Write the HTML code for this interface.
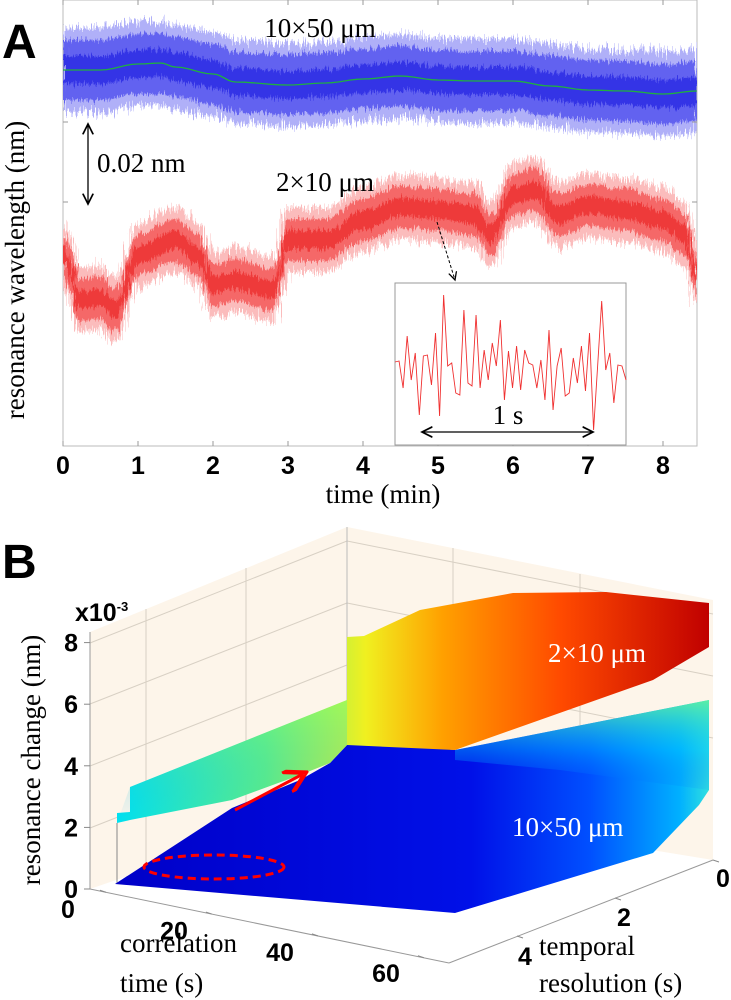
<!DOCTYPE html>
<html><head><meta charset="utf-8"><style>
body{margin:0;background:#fff;width:731px;height:1000px;overflow:hidden}
svg{display:block}
.tk{font-family:"Liberation Sans Narrow","Liberation Sans",sans-serif;font-weight:bold;font-size:25px;fill:#000}
.sf{font-family:"Liberation Serif",serif;font-size:27px;fill:#000}
</style></head><body>
<svg id="fig" width="731" height="1000" viewBox="0 0 731 1000">
<defs>
<filter id="jag" x="-5%" y="-30%" width="110%" height="160%">
<feTurbulence type="fractalNoise" baseFrequency="0.9 0.03" numOctaves="2" seed="3" result="n"/>
<feDisplacementMap in="SourceGraphic" in2="n" scale="24" xChannelSelector="R" yChannelSelector="G"/>
</filter>
<filter id="jag2" x="-5%" y="-30%" width="110%" height="160%">
<feTurbulence type="fractalNoise" baseFrequency="0.7 0.05" numOctaves="2" seed="7" result="n"/>
<feDisplacementMap in="SourceGraphic" in2="n" scale="14" xChannelSelector="R" yChannelSelector="G"/>
</filter>
<linearGradient id="gUp" x1="117" y1="0" x2="709" y2="0" gradientUnits="userSpaceOnUse">
<stop offset="0" stop-color="#00e0f0"/><stop offset="0.25" stop-color="#60f080"/><stop offset="0.42" stop-color="#f0f020"/><stop offset="0.55" stop-color="#ffa000"/><stop offset="0.75" stop-color="#ff4a00"/><stop offset="1" stop-color="#c00000"/></linearGradient>
<linearGradient id="gUpL" x1="0" y1="700" x2="0" y2="823" gradientUnits="userSpaceOnUse">
<stop offset="0" stop-color="#80ff70" stop-opacity="0.6"/><stop offset="1" stop-color="#00b0ff" stop-opacity="0"/></linearGradient>
<linearGradient id="gLow" x1="115" y1="0" x2="709" y2="0" gradientUnits="userSpaceOnUse">
<stop offset="0" stop-color="#0000c8"/><stop offset="0.6" stop-color="#0010e8"/><stop offset="0.8" stop-color="#0050ff"/><stop offset="0.95" stop-color="#00b0ff"/><stop offset="1" stop-color="#30e0e0"/></linearGradient>
<linearGradient id="gLowT" x1="0" y1="700" x2="0" y2="800" gradientUnits="userSpaceOnUse">
<stop offset="0" stop-color="#60f0a0" stop-opacity="0.9"/><stop offset="0.5" stop-color="#00c0ff" stop-opacity="0.4"/><stop offset="1" stop-color="#0040ff" stop-opacity="0"/></linearGradient>
<marker id="ah" markerWidth="10" markerHeight="10" refX="8" refY="5" orient="auto-start-reverse"><path d="M0,1 L8,5 L0,9" fill="none" stroke="#000" stroke-width="1.3"/></marker>
<marker id="ahr" markerWidth="8" markerHeight="8" refX="6" refY="4" orient="auto"><path d="M0,0 L7,4 L0,8" fill="none" stroke="#f00" stroke-width="1.5"/></marker>
</defs>

<g id="panelA">
<text x="2" y="58" font-family="Liberation Sans" font-weight="bold" font-size="48">A</text>
<rect x="63" y="0" width="634" height="446" fill="none" stroke="#bbb" stroke-width="1"/>
<g id="traces"></g>
<g id="xticks"></g>
<text class="sf" x="383" y="503" text-anchor="middle">time (min)</text>
<text class="sf" transform="translate(24,270) rotate(-90)" text-anchor="middle">resonance wavelength (nm)</text>
<text class="sf" x="320" y="37" text-anchor="middle">10×50 μm</text>
<text class="sf" x="325" y="191" text-anchor="middle">2×10 μm</text>
<line x1="88" y1="124" x2="88" y2="204" stroke="#000" stroke-width="1.3" marker-start="url(#ah)" marker-end="url(#ah)"/>
<text class="sf" x="97" y="172">0.02 nm</text>
<line x1="437" y1="222" x2="455" y2="280" stroke="#000" stroke-width="1" stroke-dasharray="3,2" marker-end="url(#ah)"/>
<rect x="395" y="283" width="231" height="162" fill="#fff" stroke="#999"/>
<g id="inset"></g>
<line x1="422" y1="432" x2="593" y2="432" stroke="#000" stroke-width="1.3" marker-start="url(#ah)" marker-end="url(#ah)"/>
<text class="sf" x="508" y="424" text-anchor="middle">1 s</text>
</g>

<g id="panelB">
<text x="2" y="578" font-family="Liberation Sans" font-weight="bold" font-size="48">B</text>
<polygon points="90,632 347,527 347,800 90,889" fill="#fdf5ea"/>
<polygon points="347,527 713,600 713,860 347,800" fill="#fdf5ea"/>
<g stroke="#d8d0c4" stroke-width="1" fill="none">
<line x1="90" y1="643" x2="347" y2="541"/><line x1="90" y1="704" x2="347" y2="603"/><line x1="90" y1="766" x2="347" y2="665"/><line x1="90" y1="828" x2="347" y2="727"/>
<line x1="146" y1="609" x2="146" y2="866"/><line x1="246" y1="568" x2="246" y2="832"/>
<line x1="347" y1="541" x2="713" y2="614"/><line x1="347" y1="603" x2="713" y2="676"/><line x1="347" y1="665" x2="713" y2="738"/>
<line x1="453" y1="548" x2="453" y2="820"/><line x1="580" y1="574" x2="580" y2="840"/>
</g>
<line x1="347" y1="527" x2="347" y2="800" stroke="#bbb"/>
<line x1="90" y1="632" x2="90" y2="889" stroke="#999"/>
<line x1="90" y1="889" x2="449" y2="963" stroke="#999"/>
<line x1="449" y1="963" x2="713" y2="860" stroke="#999"/>
<line x1="117" y1="823" x2="117" y2="884" stroke="#888"/>
<polygon points="115,884 232,808 300,780 330,763 347,745 400,745 455,750 709,700 709,790 699,805 653,853 455,913 115,884" fill="url(#gLow)"/>
<polygon points="455,750 709,700 709,790 560,770 455,760" fill="url(#gLowT)"/>
<polygon points="117,823 117,813 130,812 130,787 347,700 347,637 364,636 420,610 513,593 606,592 709,603 709,647 653,680 455,750 347,745 330,763 300,775 232,800 130,820" fill="url(#gUp)"/>
<polygon points="117,823 130,787 347,700 347,745 330,763 300,775 232,800 130,820" fill="url(#gUpL)"/>
<text x="548" y="662" font-family="Liberation Serif" font-size="27" fill="#fff">2×10 μm</text>
<text x="512" y="836" font-family="Liberation Serif" font-size="27" fill="#fff">10×50 μm</text>
<line x1="235" y1="810" x2="303" y2="774" stroke="#f00" stroke-width="3" marker-end="url(#ahr)"/>
<ellipse cx="214" cy="867" rx="70" ry="12" fill="none" stroke="#f00" stroke-width="3" stroke-dasharray="8,5"/>
<g id="zticks"></g>
<text class="tk" x="75" y="621" font-size="21">x10<tspan dy="-10" font-size="13">-3</tspan></text>
<g id="cticks"></g><g id="tticks"></g>
<text class="sf" x="120" y="952" font-size="30">correlation</text>
<text class="sf" x="120" y="992" font-size="30">time (s)</text>
<text class="sf" x="539" y="955" font-size="30">temporal</text>
<text class="sf" x="539" y="992" font-size="30">resolution (s)</text>
<text class="sf" transform="translate(40,760) rotate(-90)" text-anchor="middle" font-size="30">resonance change (nm)</text>
</g>
</svg>
<script>
const blueT=[0,0.5,1,1.3,1.5,2,2.3,3,3.5,4,4.5,5,5.5,6,6.5,7,7.5,8,8.45];
const blueV=[376,376,382,383,379,372,364,361,363,367,370,366,365,365,360,356,355,352,355];
const redT=[0,0.1,0.2,0.5,0.7,1,1.5,1.8,2,2.3,2.8,3,3.5,4,4.5,5,5.5,5.7,6,6.3,6.6,7,7.5,8,8.3,8.45];
const redV=[191,176,146,148,136,191,206,191,161,166,156,206,206,226,239,236,231,211,251,256,231,241,236,226,211,171];
const xTicks=[0,1,2,3,4,5,6,7,8];
const insetV=[7.1,7.2,4.5,9.7,5.3,8,1.8,7.7,7.8,4.8,10,1.7,13.8,6.7,7,4,3.8,12.3,5,4.7,11.8,4.5,8.3,5.3,9,6.7,11.3,3.3,8.2,4.5,8.7,4.3,8.3,7,6.8,4.5,7.3,3.3,10.3,2.3,6.7,8.5,3.7,4,7.5,5,8.7,4.2,10,0.3,6.7,13.2,6.3,8,3,6.8,6.7,5.3];
const zTicks=[0,2,4,6,8];
const corrTicks=[0,20,40,60];
const tempTicks=[0,2,4];
const NS='http://www.w3.org/2000/svg';
const xs=t=>63+t*75, ys=v=>446-v;
function mk(tag,parent,attrs){const e=document.createElementNS(NS,tag);for(const k in attrs)e.setAttribute(k,attrs[k]);parent.appendChild(e);return e;}
const tr=document.getElementById('traces');
function smoothPts(T,V,off){
 const pts=[];
 for(let i=0;i<T.length-1;i++){for(let k=0;k<6;k++){const f=k/6,s=(1-Math.cos(Math.PI*f))/2;pts.push([xs(T[i]+(T[i+1]-T[i])*f),ys(V[i]+(V[i+1]-V[i])*s+off)]);}}
 pts.push([xs(T[T.length-1]),ys(V[V.length-1]+off)]);return pts;
}
function band(T,V,half,fill,name,op,filt){
 const up=smoothPts(T,V,half), dn=smoothPts(T,V,-half).reverse();
 const p=mk('polygon',tr,{points:up.concat(dn).map(q=>q[0].toFixed(1)+','+q[1].toFixed(1)).join(' '),fill:fill,opacity:op});
 if(filt)p.setAttribute('filter',filt);
 
 
}
const clipA=mk('clipPath',document.querySelector('defs'),{id:'clipA'});mk('rect',clipA,{x:63,y:0,width:634,height:446});
tr.setAttribute('clip-path','url(#clipA)');
band(blueT,blueV,42,'#b0b0f8','blue-trace-outer',1,'url(#jag)');
band(blueT,blueV,30,'#5a5af0','blue-trace',0.9,'url(#jag2)');
band(blueT,blueV,14,'#1818e0','blue-trace-core',0.6,'url(#jag2)');
band(redT,redV,32,'#fbbcbc','red-trace-outer',1,'url(#jag)');
band(redT,redV,21,'#f45a5a','red-trace',0.85,'url(#jag2)');
band(redT,redV,9,'#e81010','red-trace-core',0.5,'url(#jag2)');
const gl=mk('polyline',tr,{points:smoothPts(blueT,blueV,0).map(q=>q[0].toFixed(1)+','+q[1].toFixed(1)).join(' '),fill:'none',stroke:'#20b040','stroke-width':1.3});


const fr=document.getElementById('xticks');
[122,202].forEach(y=>{mk('line',fr,{x1:63,y1:y,x2:68,y2:y,stroke:'#999'});mk('line',fr,{x1:692,y1:y,x2:697,y2:y,stroke:'#999'});});
xTicks.forEach(t=>{mk('line',fr,{x1:xs(t),y1:446,x2:xs(t),y2:441,stroke:'#999'});mk('line',fr,{x1:xs(t),y1:0,x2:xs(t),y2:5,stroke:'#999'});
 const tx=mk('text',fr,{x:xs(t),y:474,'text-anchor':'middle',class:'tk'});tx.textContent=t;
 
 });
const ins=document.getElementById('inset');
const ix=i=>395+i*(231/(insetV.length-1)), iy=v=>433-v*10;
const il=mk('polyline',ins,{points:insetV.map((v,i)=>ix(i)+','+iy(v)).join(' '),fill:'none',stroke:'#f03030','stroke-width':0.9});


const zt=document.getElementById('zticks');
const zy=z=>889-z*30.8;
zTicks.forEach(z=>{mk('line',zt,{x1:84,y1:zy(z),x2:90,y2:zy(z),stroke:'#888'});
 const tx=mk('text',zt,{x:78,y:zy(z)+9,'text-anchor':'end',class:'tk'});tx.textContent=z;
 
 });
const ct=document.getElementById('cticks');
const cx=c=>90+(c+3)*5.3, cy=c=>889+(c+3)*1.09;
corrTicks.forEach(c=>{const x=cx(c),y=cy(c);mk('line',ct,{x1:x,y1:y,x2:x-6,y2:y-2,stroke:'#888'});
 const tx=mk('text',ct,{x:68+c*5.3,y:918+c*1.07,'text-anchor':'middle',class:'tk'});tx.textContent=c;
 
 });
const tt=document.getElementById('tticks');
const tX=s=>713-s*49, tY=s=>860+s*19;
tempTicks.forEach(s=>{const x=tX(s),y=tY(s);mk('line',tt,{x1:x,y1:y,x2:x+6,y2:y+2,stroke:'#888'});
 const tx=mk('text',tt,{x:723-s*49.5,y:887+s*19.5,'text-anchor':'middle',class:'tk'});tx.textContent=s;
 
 });
</script>
</body></html>
